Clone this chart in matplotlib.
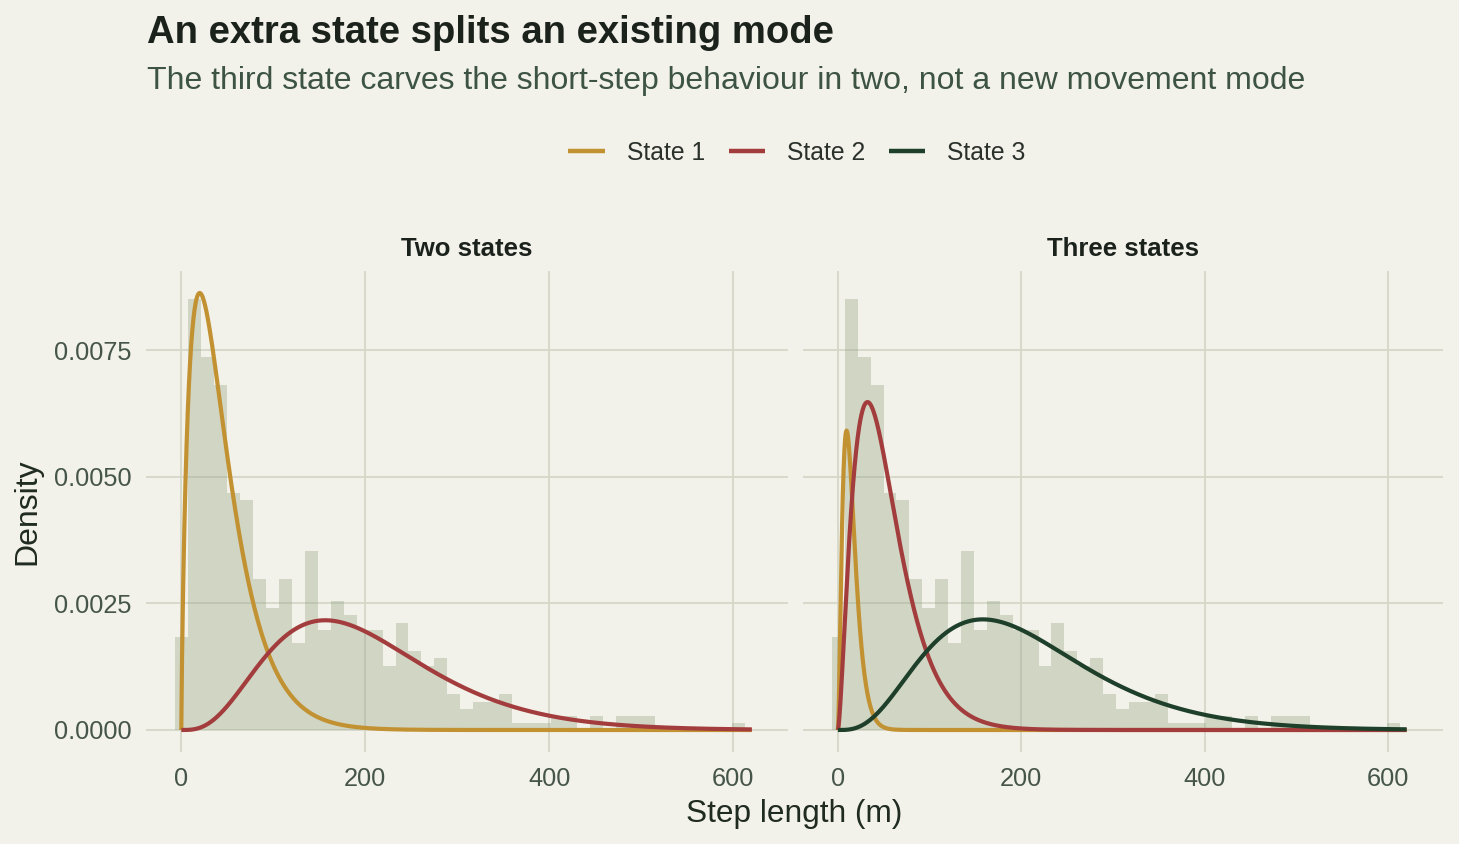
import math
import numpy as np
import matplotlib.pyplot as plt

plt.rcParams['font.family'] = ['Liberation Sans', 'DejaVu Sans']

# histogram of observed step lengths (density per bin)
bin_width = 14.08
bin_first_center = 0.5
hist_density = [
    0.00184, 0.00851, 0.00737, 0.00681, 0.00469, 0.00454, 0.00298, 0.00242,
    0.00298, 0.00171, 0.00354, 0.00198, 0.00255, 0.00227, 0.00198, 0.00198,
    0.00127, 0.00212, 0.00157, 0.00127, 0.00142, 0.00071, 0.00042, 0.00055,
    0.00055, 0.00071, 0.00014, 0.00014, 0.00014, 0.00028, 0.00028, 0.0,
    0.00028, 0.0, 0.00028, 0.00028, 0.00028, 0.0, 0.0, 0.0,
    0.0, 0.0, 0.0, 0.00014, 0.0,
]

# fitted gamma state distributions (shape, scale, weight)
panels = ["Two states", "Three states"]
state_names = ["State 1", "State 2", "State 3"]
two_shape = [1.8, 4.3]
two_scale = [25.0, 47.4]
two_weight = [0.535, 0.48]
three_shape = [2.8, 2.6, 4.3]
three_scale = [5.28, 20.2, 47.9]
three_weight = [0.110, 0.437, 0.489]
step_max = 620

state_colors = ["#C29232", "#A33D3D", "#1E3F2A"]
bg = "#F2F1EA"
grid_col = "#D5D7C7"


def gamma_pdf(x, k, theta):
    x = np.asarray(x, dtype=float)
    out = np.zeros_like(x)
    pos = x > 0
    out[pos] = np.exp((k - 1) * np.log(x[pos]) - x[pos] / theta
                      - math.lgamma(k) - k * math.log(theta))
    return out


fig = plt.figure(figsize=(14.59, 8.44), dpi=100, facecolor=bg)
ax1 = fig.add_axes([0.1001, 0.1090, 0.4400, 0.5699])
ax2 = fig.add_axes([0.5502, 0.1090, 0.4386, 0.5699], sharey=ax1)

centers = bin_first_center + bin_width * np.arange(len(hist_density))
xs = np.linspace(0, step_max, 1500)

fits = [(two_shape, two_scale, two_weight), (three_shape, three_scale, three_weight)]

for ax, title, (shapes, scales, weights) in zip([ax1, ax2], panels, fits):
    ax.set_facecolor(bg)
    ax.bar(centers, hist_density, width=bin_width, color="#94A483", alpha=0.36,
           linewidth=0, zorder=2)
    for i, (k, th, w) in enumerate(zip(shapes, scales, weights)):
        ax.plot(xs, w * gamma_pdf(xs, k, th), color=state_colors[i], lw=3.0,
                solid_capstyle="butt", zorder=3 + i, label=state_names[i])
    ax.set_xlim(-38.3, 659.3)
    ax.set_ylim(-0.000435, 0.009071)
    ax.set_xticks([0, 200, 400, 600])
    ax.set_yticks([0, 0.0025, 0.005, 0.0075])
    ax.set_yticklabels(["0.0000", "0.0025", "0.0050", "0.0075"])
    ax.grid(True, color=grid_col, lw=1.3, zorder=0)
    ax.set_axisbelow(True)
    for s in ax.spines.values():
        s.set_visible(False)
    ax.tick_params(length=0, labelsize=18.3, labelcolor="#46554A", pad=10.5)
    ax.set_title(title, fontsize=18.5, fontweight="bold", color="#1B221C", pad=11)

ax2.tick_params(labelleft=False)

fig.text(0.1007, 0.949, "An extra state splits an existing mode", fontsize=27.5,
         fontweight="bold", color="#1B221C", ha="left", va="baseline")
fig.text(0.1007, 0.895,
         "The third state carves the short-step behaviour in two, not a new movement mode",
         fontsize=23, color="#3D5442", ha="left", va="baseline")
fig.text(0.019, 0.394, "Density", fontsize=23, color="#1F2A20", rotation=90,
         ha="center", va="center")
fig.text(0.5445, 0.036, "Step length (m)", fontsize=22.8, color="#1F2A20",
         ha="center", va="center")

handles, labels = ax2.get_legend_handles_labels()
leg = fig.legend(handles, labels, loc="center", bbox_to_anchor=(0.5463, 0.819),
                 ncol=3, frameon=False, fontsize=17.8, handlelength=1.46,
                 handletextpad=0.89, columnspacing=0.97)
for line in leg.get_lines():
    line.set_linewidth(3.2)
for t in leg.get_texts():
    t.set_color("#2A302A")

fig.savefig("out.png", dpi=100, facecolor=bg)
